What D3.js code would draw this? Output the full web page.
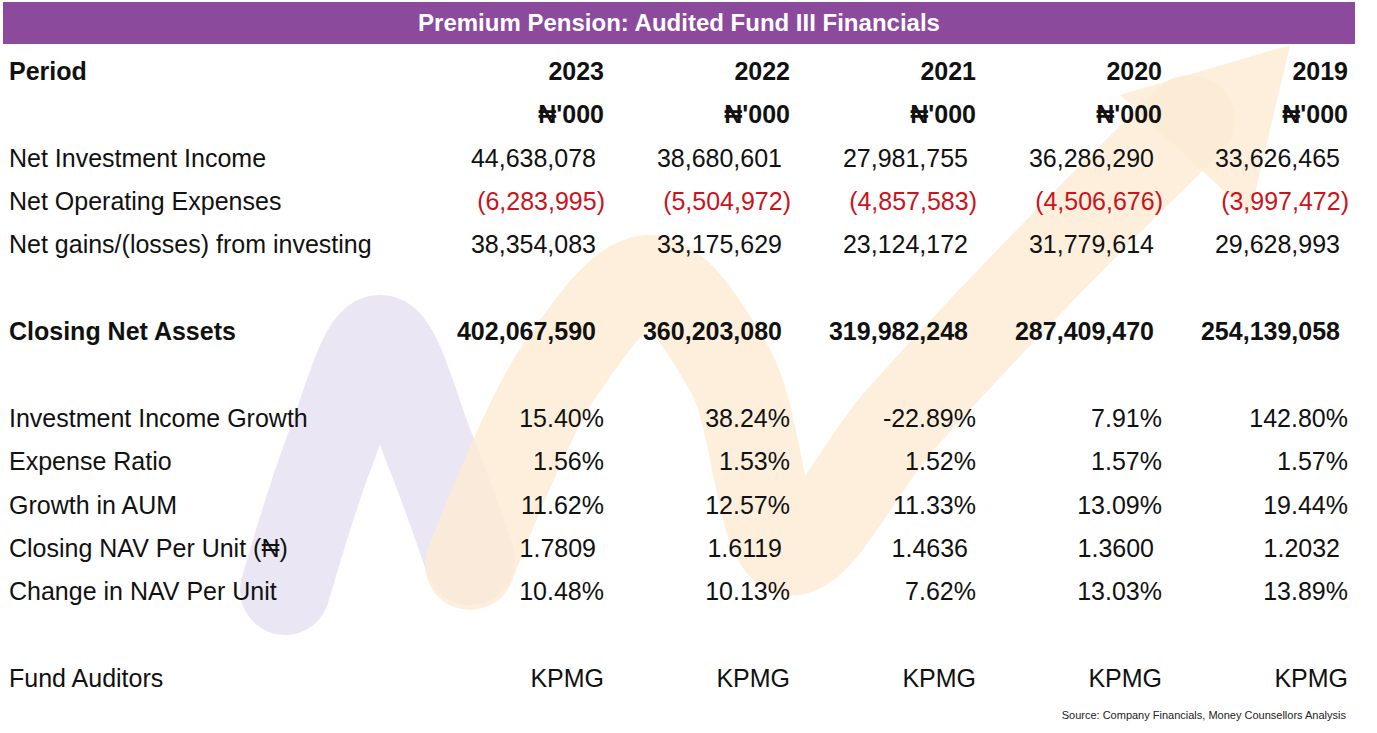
<!DOCTYPE html>
<html>
<head>
<meta charset="UTF-8">
<title>Fund III Financials</title>
<script src="https://cdnjs.cloudflare.com/ajax/libs/d3/7.8.5/d3.min.js"></script>
<style>
  body { margin: 0; background: #fff; }
  text { font-family: "Liberation Sans", Arial, sans-serif; }
</style>
</head>
<body>
<svg id="chart" width="1377" height="733"></svg>
<script>
var title = "Premium Pension: Audited Fund III Financials";
var years = ["2023", "2022", "2021", "2020", "2019"];
var unitLabel = "\u20A6'000";
var netInvestmentIncome = ["44,638,078", "38,680,601", "27,981,755", "36,286,290", "33,626,465"];
var netOperatingExpenses = ["(6,283,995)", "(5,504,972)", "(4,857,583)", "(4,506,676)", "(3,997,472)"];
var netGains = ["38,354,083", "33,175,629", "23,124,172", "31,779,614", "29,628,993"];
var closingNetAssets = ["402,067,590", "360,203,080", "319,982,248", "287,409,470", "254,139,058"];
var incomeGrowth = ["15.40%", "38.24%", "-22.89%", "7.91%", "142.80%"];
var expenseRatio = ["1.56%", "1.53%", "1.52%", "1.57%", "1.57%"];
var aumGrowth = ["11.62%", "12.57%", "11.33%", "13.09%", "19.44%"];
var closingNav = ["1.7809", "1.6119", "1.4636", "1.3600", "1.2032"];
var navChange = ["10.48%", "10.13%", "7.62%", "13.03%", "13.89%"];
var auditors = ["KPMG", "KPMG", "KPMG", "KPMG", "KPMG"];
var source = "Source: Company Financials, Money Counsellors Analysis";

var rows = [
  {label: "Period", values: years, bold: true, slot: 0},
  {label: "", values: years.map(function () { return unitLabel; }), bold: true, slot: 1},
  {label: "Net Investment Income", values: netInvestmentIncome, slot: 2, dx: -8},
  {label: "Net Operating Expenses", values: netOperatingExpenses, red: true, slot: 3, dx: 1},
  {label: "Net gains/(losses) from investing", values: netGains, slot: 4, dx: -8},
  {label: "Closing Net Assets", values: closingNetAssets, bold: true, slot: 6, dx: -8},
  {label: "Investment Income Growth", values: incomeGrowth, slot: 8},
  {label: "Expense Ratio", values: expenseRatio, slot: 9},
  {label: "Growth in AUM", values: aumGrowth, slot: 10},
  {label: "Closing NAV Per Unit (\u20A6)", values: closingNav, slot: 11, dx: -8},
  {label: "Change in NAV Per Unit", values: navChange, slot: 12},
  {label: "Fund Auditors", values: auditors, slot: 14}
];

var svg = d3.select("#chart");

// faint watermark logo
var wm = svg.append("g").attr("fill", "none").attr("stroke-linecap", "round").attr("stroke-linejoin", "round");
var line = d3.line().curve(d3.curveCatmullRom);
wm.append("path").attr("d", line([[285, 590], [330, 450], [380, 340], [430, 450], [470, 560]]))
  .attr("stroke", "#e4ddf0").attr("stroke-width", 90).attr("opacity", 0.75);
wm.append("path").attr("d", line([[470, 565], [560, 370], [650, 280], [730, 370], [790, 550], [900, 420], [1050, 260], [1190, 120]]))
  .attr("stroke", "#fdebd3").attr("stroke-width", 90).attr("opacity", 0.8);
wm.append("polygon").attr("points", "1120,95 1290,45 1250,215")
  .attr("fill", "#fdebd3").attr("stroke", "none").attr("opacity", 0.8);

// title bar
svg.append("rect").attr("x", 3).attr("y", 2).attr("width", 1352).attr("height", 42).attr("fill", "#8c4a9d");
svg.append("text").attr("x", 679).attr("y", 31).attr("text-anchor", "middle")
  .attr("fill", "#fff").attr("font-weight", "bold").attr("font-size", 24).text(title);

var y = d3.scaleLinear().domain([0, 14]).range([80, 687]);
var x = d3.scalePoint().domain(years).range([604, 1348]);

var g = svg.selectAll("g.row").data(rows).enter().append("g").attr("class", "row")
  .attr("transform", function (d) { return "translate(0," + y(d.slot) + ")"; });

g.append("text").attr("x", 9).attr("font-size", 25)
  .attr("font-weight", function (d) { return d.bold ? "bold" : "normal"; })
  .attr("fill", "#111").text(function (d) { return d.label; });

g.each(function (d) {
  d3.select(this).selectAll("text.v").data(d.values).enter().append("text")
    .attr("class", "v")
    .attr("x", function (v, i) { return x(years[i]) + (d.dx || 0); })
    .attr("text-anchor", "end").attr("font-size", 25)
    .attr("font-weight", d.bold ? "bold" : "normal")
    .attr("fill", d.red ? "#c8141e" : "#111")
    .text(function (v) { return v; });
});

svg.append("text").attr("x", 1346).attr("y", 719).attr("text-anchor", "end")
  .attr("font-size", 11).attr("fill", "#222").text(source);
</script>
</body>
</html>
